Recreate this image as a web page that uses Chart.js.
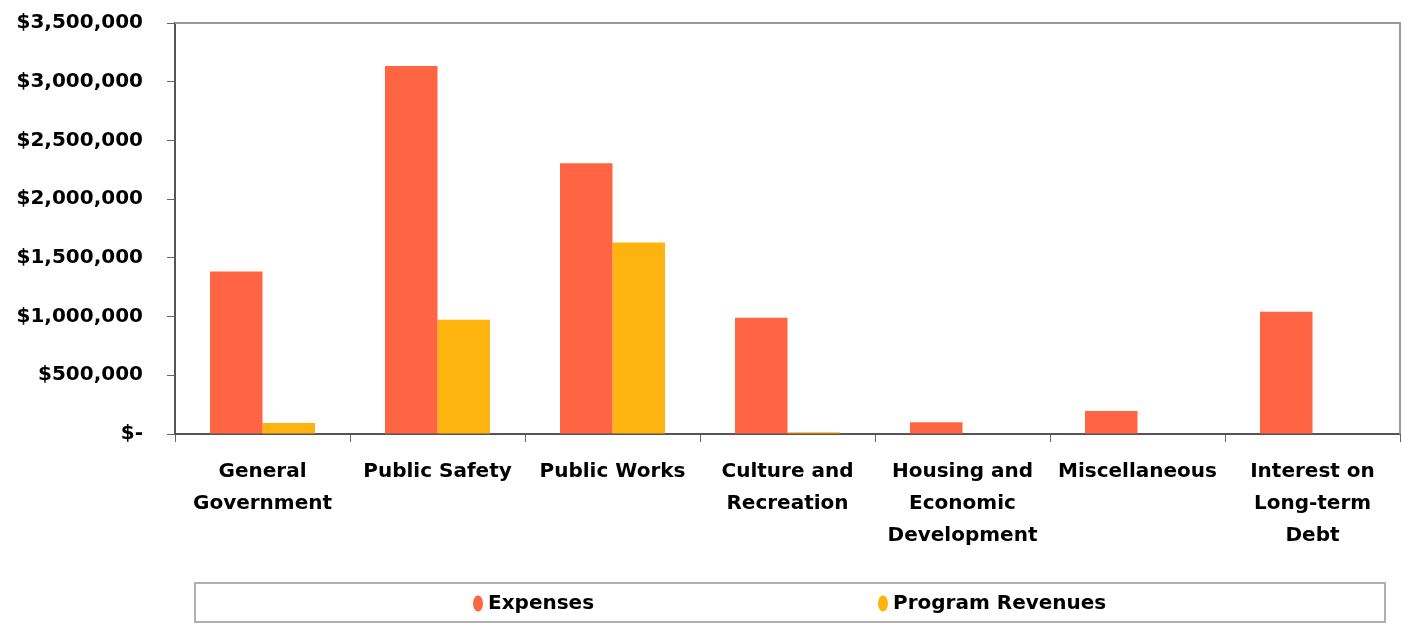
<!DOCTYPE html>
<html>
<head>
<meta charset="utf-8">
<script src="https://cdn.jsdelivr.net/npm/chart.js@4"></script>
<style>
  html, body { margin: 0; padding: 0; background: #fff; }
  #wrap { width: 1403px; height: 625px; }
</style>
</head>
<body>
<div id="wrap"><canvas id="chart"></canvas></div>
<script>
const categories = [
    ['General', 'Government'],
    ['Public Safety'],
    ['Public Works'],
    ['Culture and', 'Recreation'],
    ['Housing and', 'Economic', 'Development'],
    ['Miscellaneous'],
    ['Interest on', 'Long-term', 'Debt']
];
const expenses = [1383000, 3133000, 2305000, 990000, 100000, 196000, 1040000];
const programRevenues = [94000, 973000, 1630000, 15000, 0, 0, 0];

const fontFamily = '"DejaVu Sans", Arial, sans-serif';
const expenseColor = '#ff6542';
const revenueColor = '#ffb30f';

// box around plot area (top + right lines like the Excel chart)
const plotBorder = {
    id: 'plotBorder',
    afterDraw(chart) {
        const { ctx, chartArea: a } = chart;
        ctx.save();
        ctx.strokeStyle = '#9a9a9a';
        ctx.lineWidth = 2;
        ctx.beginPath();
        ctx.moveTo(a.left, a.top);
        ctx.lineTo(a.right, a.top);
        ctx.lineTo(a.right, a.bottom);
        ctx.stroke();
        ctx.restore();
    }
};

// legend drawn in a framed box under the chart
const boxLegend = {
    id: 'boxLegend',
    afterDraw(chart) {
        const { ctx, chartArea: a } = chart;
        const top = chart.height - 42, h = 39;
        const left = a.left + 20, right = a.right - 15;
        ctx.save();
        ctx.strokeStyle = '#b0b0b0';
        ctx.lineWidth = 2;
        ctx.strokeRect(left, top, right - left, h);
        ctx.font = 'bold 20px ' + fontFamily;
        ctx.textBaseline = 'middle';
        const xs = [left + 283, left + 688];
        chart.data.datasets.forEach((ds, i) => {
            const cy = top + h / 2 + 1;
            ctx.fillStyle = ds.backgroundColor;
            ctx.beginPath();
            ctx.ellipse(xs[i], cy, 5, 8, 0, 0, Math.PI * 2);
            ctx.fill();
            ctx.fillStyle = '#000';
            ctx.fillText(ds.label, xs[i] + 10, cy);
        });
        ctx.restore();
    }
};

new Chart(document.getElementById('chart'), {
    type: 'bar',
    data: {
        labels: categories,
        datasets: [
            {
                label: 'Expenses',
                data: expenses,
                backgroundColor: expenseColor,
                barPercentage: 1,
                categoryPercentage: 0.6
            },
            {
                label: 'Program Revenues',
                data: programRevenues,
                backgroundColor: revenueColor,
                barPercentage: 1,
                categoryPercentage: 0.6
            }
        ]
    },
    options: {
        responsive: true,
        maintainAspectRatio: false,
        animation: false,
        layout: { padding: { top: 0, right: 3, left: 12, bottom: 59 } },
        plugins: {
            legend: { display: false },
            tooltip: { enabled: false }
        },
        scales: {
            x: {
                grid: { drawOnChartArea: false, tickLength: 8, color: '#666', offset: true },
                border: { color: '#555', width: 2 },
                ticks: {
                    color: '#000',
                    font: { family: fontFamily, size: 20, weight: 'bold', lineHeight: 1.6 },
                    padding: 14,
                    maxRotation: 0,
                    autoSkip: false
                }
            },
            y: {
                min: 0,
                max: 3500000,
                afterFit: (scale) => {
                    scale.width = 163;
                    scale.paddingTop = 23;
                },
                grid: { drawOnChartArea: false, tickLength: 8, color: '#666' },
                border: { color: '#555', width: 2 },
                ticks: {
                    stepSize: 500000,
                    color: '#000',
                    padding: 24,
                    font: { family: fontFamily, size: 20, weight: 'bold' },
                    callback: v => v === 0 ? '$-' : '$' + v.toLocaleString('en-US')
                }
            }
        }
    },
    plugins: [plotBorder, boxLegend]
});
</script>
</body>
</html>
